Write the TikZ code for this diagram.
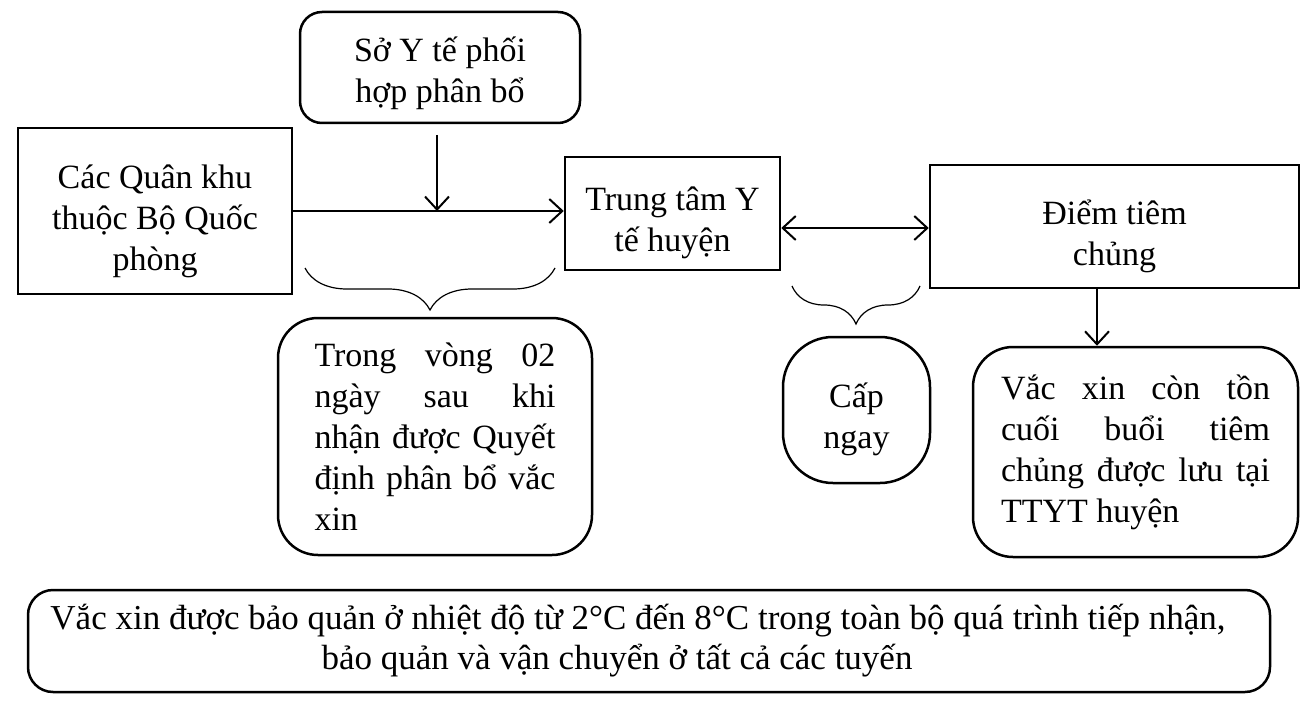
\documentclass[tikz,border=0pt]{standalone}
\usepackage{fontspec}
\setmainfont{Liberation Serif}
\usetikzlibrary{arrows.meta,decorations.pathreplacing}
\newcommand{\jl}[2]{\makebox[#1][s]{#2}}
\newcommand{\lowr}{\rule{0pt}{44pt}}
\begin{document}
\begin{tikzpicture}[x=1pt,y=-1pt,
  box/.style={draw,line width=2.5pt,inner sep=0pt,font=\fontsize{34}{41}\selectfont,align=center},
  rbox/.style={box,rounded corners=22pt},
  arr/.style={line width=2pt,-{Straight Barb[length=13pt,width=24pt,line width=2pt]}},
  darr/.style={line width=2pt,{Straight Barb[length=13pt,width=24pt,line width=2pt]}-{Straight Barb[length=13pt,width=24pt,line width=2pt]}},
  brc/.style={decorate,decoration={brace,amplitude=#1},line width=1.2pt}]
\useasboundingbox (0,0) rectangle (1312,706);

\node[rbox,minimum width=280pt,minimum height=111pt] (so) at (440,67.5) {\rule{0pt}{36pt}Sở Y tế phối\\hợp phân bổ};
\node[box,minimum width=274pt,minimum height=166pt] (qk) at (155,211) {\lowr Các Quân khu\\thuộc Bộ Quốc\\phòng};
\node[box,minimum width=215pt,minimum height=113pt] (tt) at (672.5,213.5) {\rule{0pt}{42pt}Trung tâm Y\\tế huyện};
\node[box,minimum width=369pt,minimum height=123pt] (dt) at (1114.5,226.5) {\lowr Điểm tiêm\\chủng};
\node[box,rounded corners=40pt,minimum width=314pt,minimum height=237pt,align=left] (tv) at (435,436.5)
  {\jl{241pt}{Trong vòng 02}\\\jl{241pt}{ngày sau khi}\\\jl{241pt}{nhận được Quyết}\\\jl{241pt}{định phân bổ vắc}\\xin};
\node[box,rounded corners=50pt,minimum width=147pt,minimum height=146pt] (cn) at (856.5,410) {\lowr Cấp\\ngay};
\node[box,rounded corners=40pt,minimum width=325pt,minimum height=210pt,align=left] (vx) at (1135.5,452)
  {\jl{269pt}{Vắc xin còn tồn}\\\jl{269pt}{cuối buổi tiêm}\\\jl{269pt}{chủng được lưu tại}\\TTYT huyện};
\node[box,rounded corners=25pt,minimum width=1242pt,minimum height=102pt,font=\fontsize{35}{40}\selectfont] (bt) at (649,641)
  {Vắc xin được bảo quản ở nhiệt độ từ 2°C đến 8°C trong toàn bộ quá trình tiếp nhận,\hspace*{22pt}\\bảo quản và vận chuyển ở tất cả các tuyến\hspace*{64pt}};

\draw[arr] (qk.east) -- (qk.east -| tt.west);
\coordinate (s1) at (437,135);
\draw[arr] (s1) -- (s1 |- qk.east);
\coordinate (d1) at (tt.east |- 0,228);
\coordinate (d2) at (dt.west |- 0,228);
\draw[darr] (d1) -- (d2);
\coordinate (v1) at (1097,0);
\draw[arr] (v1 |- dt.south) -- (v1 |- vx.north);

\coordinate (b1r) at (555,268);
\coordinate (b1l) at (305,268);
\draw[brc=42pt] (b1r) -- (b1l);
\coordinate (b2r) at (920,286);
\coordinate (b2l) at (792,286);
\draw[brc=38pt] (b2r) -- (b2l);
\end{tikzpicture}
\end{document}
